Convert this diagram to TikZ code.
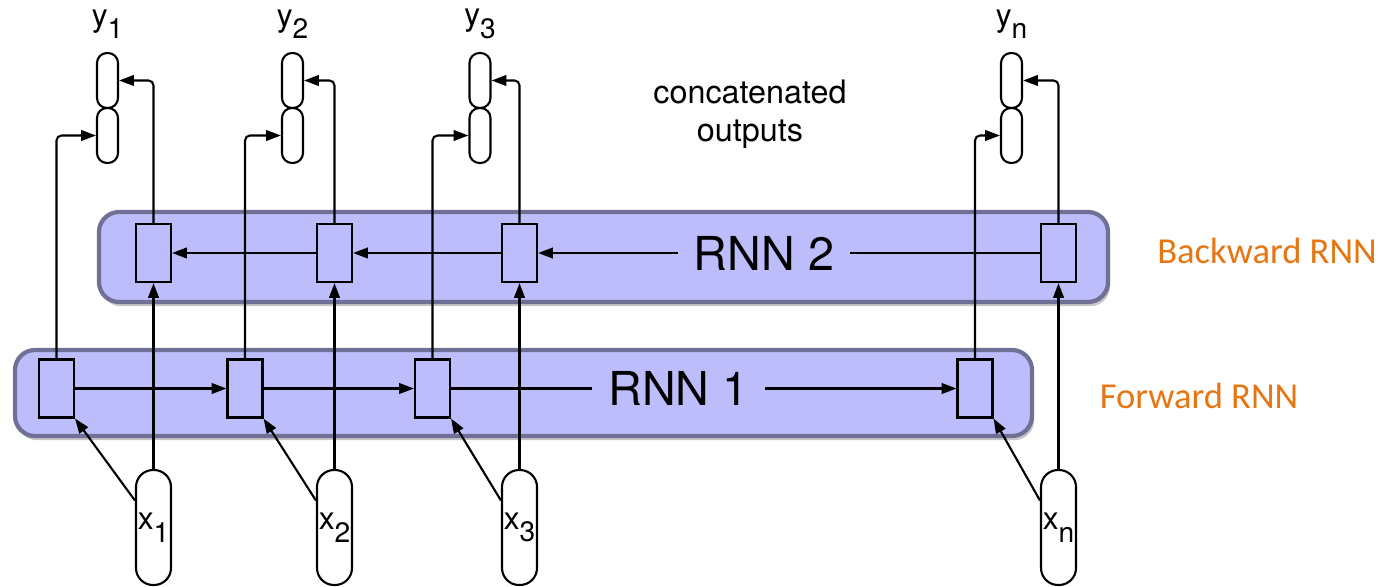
\documentclass[tikz,border=0pt]{standalone}
\usepackage{fontspec}
\setmainfont{TeX Gyre Heros}
\newfontfamily\sidefont{Carlito}
\usetikzlibrary{positioning, arrows.meta, shadows}

\definecolor{rnnfill}{RGB}{189,189,252}
\definecolor{rnnborder}{RGB}{112,112,150}
\definecolor{sideorange}{RGB}{230,117,18}

% Lowered index, almost as large as the letter.
\newcommand{\lowsub}[1]{\raisebox{-3.6pt}{\fontsize{8}{9}\selectfont #1}}

\begin{document}
\begin{tikzpicture}[%
        x = 1cm,
        y = -1cm,
        line width = 0.6pt,
        > = {Triangle[length = 4.2pt, width = 3pt]},
        rnnbox/.style = {
            draw = rnnborder,
            fill = rnnfill,
            line width = 1.2pt,
            rounded corners = 0.2cm,
            drop shadow = {shadow xshift = 0.6pt, shadow yshift = -1.2pt, opacity = 0.45}
        },
        rnncell/.style = {
            draw = black,
            fill = rnnfill,
            minimum width = 0.35cm,
            minimum height = 0.58cm,
            inner sep = 0
        },
        inpill/.style = {
            draw = black,
            fill = white,
            rounded corners = 0.17cm,
            minimum width = 0.35cm,
            minimum height = 1.15cm,
            inner sep = 0,
            font = \fontsize{9}{10}\selectfont
        },
        outpill/.style = {
            draw = black,
            fill = white,
            rounded corners = 0.1cm,
            minimum width = 0.21cm,
            minimum height = 0.55cm,
            inner sep = 0
        },
        ylab/.style = {
            inner sep = 0,
            font = \fontsize{9}{10}\selectfont
        },
        rnnlab/.style = {
            fill = rnnfill,
            inner xsep = 0.16cm,
            inner ysep = 0,
            font = \fontsize{13.3}{16}\selectfont
        },
        sidelab/.style = {
            anchor = base,
            text = sideorange,
            font = \sidefont\fontsize{10.4}{12}\selectfont
        }
    ]

        \useasboundingbox (0, 0) rectangle (13.81, 5.86);

        % The two recurrent layers.
        \path[rnnbox] (0.99, 2.12) rectangle (11.08, 3.02);
        \path[rnnbox] (0.15, 3.50) rectangle (10.32, 4.36);

        % Forward cells.
        \node[rnncell] (f1) at (0.565, 3.885) {};
        \node[rnncell] (f2) at (2.45, 3.885) {};
        \node[rnncell] (f3) at (4.325, 3.885) {};
        \node[rnncell] (fn) at (9.75, 3.885) {};

        % Backward cells.
        \node[rnncell] (b1) at (1.535, 2.53) {};
        \node[rnncell] (b2) at (3.345, 2.53) {};
        \node[rnncell] (b3) at (5.195, 2.53) {};
        \node[rnncell] (bn) at (10.585, 2.53) {};

        % Inputs.
        \node[inpill] (x1) at (1.535, 5.275) {x\lowsub{1}};
        \node[inpill] (x2) at (3.345, 5.275) {x\lowsub{2}};
        \node[inpill] (x3) at (5.195, 5.275) {x\lowsub{3}};
        \node[inpill] (xn) at (10.585, 5.275) {x\lowsub{n}};

        % Outputs: upper half from the backward pass, lower half from the forward pass.
        \node[outpill] (y1a) at (1.075, 0.805) {};
        \node[outpill] (y1b) at (1.075, 1.355) {};
        \node[outpill] (y2a) at (2.925, 0.805) {};
        \node[outpill] (y2b) at (2.925, 1.355) {};
        \node[outpill] (y3a) at (4.80, 0.805) {};
        \node[outpill] (y3b) at (4.80, 1.355) {};
        \node[outpill] (yna) at (10.115, 0.805) {};
        \node[outpill] (ynb) at (10.115, 1.355) {};

        \node[ylab, above = 0.12cm of y1a] (l1) {y\lowsub{1}};
        \node[ylab, above = 0.12cm of y2a] (l2) {y\lowsub{2}};
        \node[ylab, above = 0.12cm of y3a] (l3) {y\lowsub{3}};
        \node[ylab, above = 0.12cm of yna] (ln) {y\lowsub{n}};

        \node[align = center, font = \fontsize{9.2}{10.8}\selectfont] (concat)
            at (7.50, 1.14) {concatenated\\outputs};

        \node[sidelab] (bwd) at (12.67, 2.63) {Backward RNN};
        \node[sidelab] (fwd) at (11.99, 4.08) {Forward RNN};

        % Recurrent connections.
        \draw[->] (f1) -- (f2);
        \draw[->] (f2) -- (f3);
        \draw[->] (f3) -- node[rnnlab, pos = 0.45] (rnn1) {RNN 1} (fn);
        \draw[->] (bn) -- node[rnnlab, pos = 0.55] (rnn2) {RNN 2} (b3);
        \draw[->] (b3) -- (b2);
        \draw[->] (b2) -- (b1);

        % Inputs into both layers.
        \draw[->] (x1.north) -- (b1.south);
        \draw[->] (x2.north) -- (b2.south);
        \draw[->] (x3.north) -- (b3.south);
        \draw[->] (xn.north) -- (bn.south);
        \draw[->] ([yshift = 0.27cm]x1.west) -- (f1.south east);
        \draw[->] ([yshift = 0.27cm]x2.west) -- (f2.south east);
        \draw[->] ([yshift = 0.27cm]x3.west) -- (f3.south east);
        \draw[->] ([yshift = 0.27cm]xn.west) -- (fn.south east);

        % Both layers up into the outputs.
        \begin{scope}[rounded corners = 0.05cm]
            \draw[->] (b1.north) |- (y1a.east);
            \draw[->] (b2.north) |- (y2a.east);
            \draw[->] (b3.north) |- (y3a.east);
            \draw[->] (bn.north) |- (yna.east);
            \draw[->] (f1.north) |- (y1b.west);
            \draw[->] (f2.north) |- (y2b.west);
            \draw[->] (f3.north) |- (y3b.west);
            \draw[->] (fn.north) |- (ynb.west);
        \end{scope}
    \end{tikzpicture}
\end{document}
